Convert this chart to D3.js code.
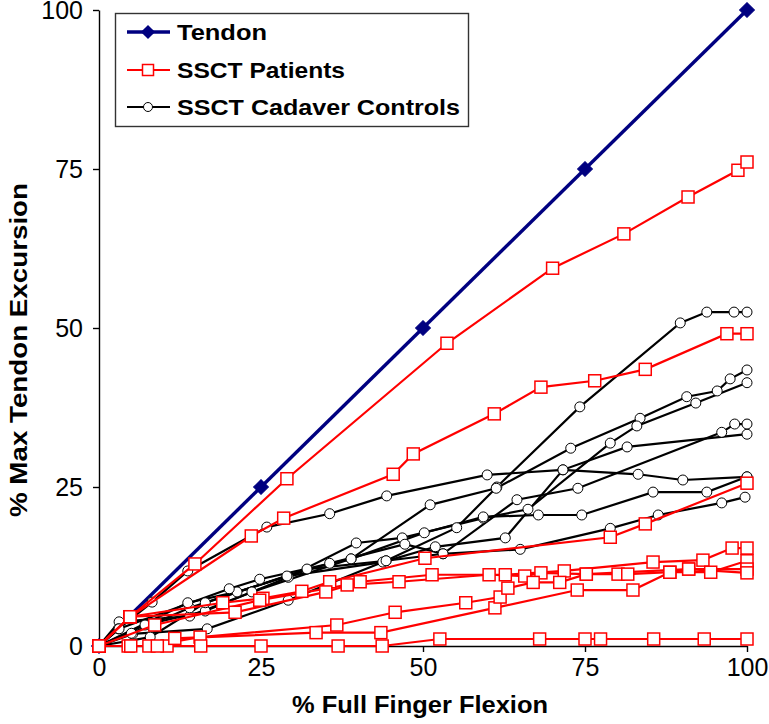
<!DOCTYPE html>
<html><head><meta charset="utf-8">
<script src="https://cdn.jsdelivr.net/npm/d3@7"></script>
<style>
html,body{margin:0;padding:0;background:#fff;}
svg{display:block;font-family:Arial,"Liberation Sans",sans-serif;}
</style></head>
<body>
<svg id="chart" width="769" height="724"></svg>
<script>
// ---------- DATA ----------
const xTicks = [0, 25, 50, 75, 100];
const yTicks = [0, 25, 50, 75, 100];
const seriesNames = ["Tendon", "SSCT Patients", "SSCT Cadaver Controls"];

const tendon = [[0,0],[25,25],[50,50],[75,75],[100,100]];

const patient1 = [[0,0],[4.8,4.6],[14.8,12.9],[29,26.3],[53.7,47.6],[70,59.4],[81,64.8],[90.9,70.6],[98.6,74.8],[100,76.1]];
const patient2 = [[0,0],[4.8,4.6],[23.5,17.3],[28.5,20.1],[45.4,27],[48.5,30.2],[61,36.5],[68.2,40.7],[76.5,41.7],[84.3,43.5],[96.9,49.1],[100,49.1]];
const patient3 = [[0,0],[4.8,4.6],[19.1,6.8],[25.3,7.5],[31.3,8.6],[35.6,10.1],[50.3,13.8],[78.9,17.1],[84.3,19.2],[100,25.6]];
const patient4 = [[0,0],[4.8,4.6],[21,5.3],[35,8.5],[40.3,10.1],[51.4,11.2],[62.7,11.2],[71.8,11.8],[85.5,13.2],[93.2,13.5],[97.7,15.4],[100,15.4]];
const patient5 = [[0,0],[8.6,3.3],[24.8,7.2],[38.3,9.6],[46.3,10.1],[60.2,11.2],[65.7,11],[68.2,11.5],[75.2,11.3],[80.1,11.3],[81.6,11.3],[88.1,11.6],[94.4,11.6],[100,13.4]];
const patient6 = [[0,0],[4.5,0],[10.5,0],[11.7,1.2],[33.5,2.1],[43.5,2.1],[61.1,6],[73.8,8.8],[82.4,8.8],[88.1,11.6],[91,12.1],[100,12.1]];
const patient7 = [[0,0],[7.7,0],[15.6,1.4],[36.7,3.3],[45.7,5.3],[56.6,6.8],[61.9,7.7],[63.1,9.1],[67,10],[71.1,10],[75.2,11.3],[91,12.1],[100,11.5]];
const patient8 = [[0,0],[4.9,0],[9,0],[15.7,0],[25,0],[36.9,0],[43.7,0],[52.6,1.1],[68,1.1],[75,1.1],[77.4,1.1],[85.6,1.1],[93.4,1.1],[100,1.1]];

const cadaver1 = [[0,0],[5.2,1.9],[16.7,2.7],[29.2,7.2],[44.3,13.4],[55.2,18.6],[61.4,25],[74.2,37.6],[89.7,50.8],[93.8,52.5],[98,52.5],[100,52.5]];
const cadaver2 = [[0,0],[3.1,3.8],[14,4.7],[23.6,8.5],[38.9,13.7],[51.1,22.2],[61.3,24.8],[72.8,31.1],[83.5,35.8],[90.7,39.2],[95.4,40.1],[97.4,42],[100,43.4]];
const cadaver3 = [[0,0],[7.1,3.3],[16.4,5.5],[29.2,10.8],[39.7,16.2],[46.8,17],[59.3,20.1],[66.2,21.5],[78.9,31.9],[83,34.6],[92.1,38.2],[100,41.4]];
const cadaver4 = [[0,0],[3,2.7],[8.2,6.9],[13.7,11.8],[25.9,18.7],[35.6,20.8],[44.4,23.6],[59.9,26.9],[71.6,27.7],[83.2,27],[90.1,26.1],[100,26.6]];
const cadaver5 = [[0,0],[5,2],[14,6],[29,11],[43.8,13.2],[51.9,15.6],[62.7,17],[71.6,27.7],[81.5,31.3],[100,33.3]];
const cadaver6 = [[0,0],[7.9,1.4],[16.4,6.8],[32.1,12.1],[44.3,13.4],[53.1,14.5],[64.5,23],[73.9,24.8],[96.1,33.6],[98.1,34.9],[100,34.9]];
const cadaver7 = [[0,0],[13.7,6.8],[21.3,8.5],[35.6,13],[47.2,16],[53.1,14.5],[65,15.2],[78.9,18.5],[86.3,20.6],[96.1,22.5],[99.7,23.4]];
const cadaver8 = [[0,0],[3.1,2.7],[20.1,9],[24.8,10.5],[38.9,13.7],[50.2,17.8],[59.3,20.3],[67.8,20.6],[74.5,20.6],[85.5,24.2],[93.8,24.2],[100,26.6]];

const patients = [patient1, patient2, patient3, patient4, patient5, patient6, patient7, patient8];
const cadavers = [cadaver1, cadaver2, cadaver3, cadaver4, cadaver5, cadaver6, cadaver7, cadaver8];

// ---------- CHART ----------
const svg = d3.select("#chart");
const x = d3.scaleLinear().domain([0, 100]).range([99, 747]);
const y = d3.scaleLinear().domain([0, 100]).range([646, 10]);
const line = d3.line().x(d => x(d[0])).y(d => y(d[1]));

const NAVY = "#000080", RED = "#ff0000", BLACK = "#000000";

// axes
const xAxis = svg.append("g").attr("transform", "translate(0,646)")
  .call(d3.axisBottom(x).tickValues(xTicks).tickSize(6).tickSizeOuter(0).tickPadding(6));
const yAxis = svg.append("g").attr("transform", "translate(99,0)")
  .call(d3.axisLeft(y).tickValues(yTicks).tickSize(6).tickSizeOuter(0).tickPadding(10));
[xAxis, yAxis].forEach(a => {
  a.select(".domain").attr("stroke", "#000").attr("stroke-width", 1.4);
  a.selectAll(".tick line").attr("stroke", "#000").attr("stroke-width", 1.4);
  a.selectAll(".tick text").attr("fill", "#000").style("font-size", "25px")
    .style("font-family", "Arial, 'Liberation Sans', sans-serif");
});

// Tendon (bottom layer)
svg.append("path").datum(tendon).attr("d", line)
  .attr("fill", "none").attr("stroke", NAVY).attr("stroke-width", 3.4);
svg.append("g").selectAll("path").data(tendon).join("path")
  .attr("d", d3.symbol().type(d3.symbolSquare).size(110))
  .attr("transform", d => `translate(${x(d[0])},${y(d[1])}) rotate(45)`)
  .attr("fill", NAVY).attr("stroke", NAVY);

// Cadaver controls
cadavers.forEach(s => {
  svg.append("path").datum(s).attr("d", line)
    .attr("fill", "none").attr("stroke", BLACK).attr("stroke-width", 2.2);
});
cadavers.forEach(s => {
  svg.append("g").selectAll("circle").data(s).join("circle")
    .attr("cx", d => x(d[0])).attr("cy", d => y(d[1])).attr("r", 5)
    .attr("fill", "#fff").attr("stroke", BLACK).attr("stroke-width", 1);
});

// Patients
patients.forEach(s => {
  svg.append("path").datum(s).attr("d", line)
    .attr("fill", "none").attr("stroke", RED).attr("stroke-width", 2.2);
});
patients.forEach(s => {
  svg.append("g").selectAll("rect").data(s).join("rect")
    .attr("x", d => x(d[0]) - 6).attr("y", d => y(d[1]) - 6)
    .attr("width", 12).attr("height", 12)
    .attr("fill", "#fff").attr("stroke", RED).attr("stroke-width", 1.5);
});

// Axis titles
svg.append("text").attr("x", 420).attr("y", 713).attr("text-anchor", "middle")
  .attr("textLength", 256).attr("lengthAdjust", "spacingAndGlyphs")
  .style("font-size", "23px").style("font-weight", "bold").text("% Full Finger Flexion");
svg.append("text").attr("transform", "translate(27,350) rotate(-90)").attr("text-anchor", "middle")
  .attr("textLength", 334).attr("lengthAdjust", "spacingAndGlyphs")
  .style("font-size", "23px").style("font-weight", "bold").text("% Max Tendon Excursion");

// Legend
const lg = svg.append("g");
lg.append("rect").attr("x", 115.5).attr("y", 13.5).attr("width", 353).attr("height", 113)
  .attr("fill", "#fff").attr("stroke", "#333").attr("stroke-width", 1.4);
const rows = [32, 70, 107];
const legendWidths = [90, 168, 283];
// Tendon
lg.append("line").attr("x1", 127).attr("x2", 170).attr("y1", rows[0]).attr("y2", rows[0])
  .attr("stroke", NAVY).attr("stroke-width", 3.4);
lg.append("path").attr("d", d3.symbol().type(d3.symbolSquare).size(100))
  .attr("transform", `translate(148,${rows[0]}) rotate(45)`).attr("fill", NAVY);
// Patients
lg.append("line").attr("x1", 127).attr("x2", 170).attr("y1", rows[1]).attr("y2", rows[1])
  .attr("stroke", RED).attr("stroke-width", 2.2);
lg.append("rect").attr("x", 142.5).attr("y", rows[1] - 5.5).attr("width", 11).attr("height", 11)
  .attr("fill", "#fff").attr("stroke", RED).attr("stroke-width", 1.5);
// Cadaver
lg.append("line").attr("x1", 127).attr("x2", 170).attr("y1", rows[2]).attr("y2", rows[2])
  .attr("stroke", BLACK).attr("stroke-width", 2.2);
lg.append("circle").attr("cx", 148).attr("cy", rows[2]).attr("r", 4.5)
  .attr("fill", "#fff").attr("stroke", BLACK).attr("stroke-width", 1);
seriesNames.forEach((n, i) => {
  lg.append("text").attr("x", 177).attr("y", rows[i] + 8)
    .attr("textLength", legendWidths[i]).attr("lengthAdjust", "spacingAndGlyphs")
    .style("font-size", "22px").style("font-weight", "bold").text(n);
});
</script>
</body></html>
